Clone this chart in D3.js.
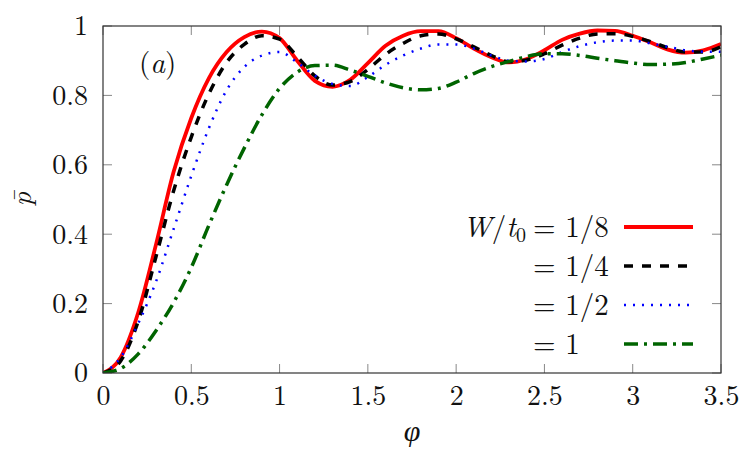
<!DOCTYPE html>
<html><head><meta charset="utf-8">
<script src="https://cdn.jsdelivr.net/npm/d3@7"></script>
<style>body{margin:0;background:#fff;}</style></head>
<body><svg id="c" width="750" height="450"></svg>
<script>
const phi = [0,0.1,0.2,0.3,0.4,0.5,0.6,0.7,0.8,0.9,1.0,1.1,1.2,1.3,1.4,1.5,1.6,1.7,1.8,1.9,2.0,2.1,2.2,2.3,2.4,2.5,2.6,2.7,2.8,2.9,3.0,3.1,3.2,3.3,3.4,3.5];
const pW8 = [0,0.045,0.175,0.37,0.58,0.735,0.85,0.925,0.968,0.984,0.965,0.9,0.842,0.825,0.845,0.893,0.943,0.972,0.985,0.985,0.965,0.935,0.91,0.895,0.905,0.93,0.96,0.978,0.987,0.986,0.972,0.953,0.932,0.923,0.93,0.948];
const pW4 = [0,0.035,0.15,0.335,0.525,0.68,0.805,0.895,0.947,0.972,0.962,0.912,0.856,0.83,0.84,0.875,0.918,0.95,0.972,0.977,0.963,0.94,0.915,0.897,0.902,0.92,0.945,0.965,0.977,0.978,0.97,0.955,0.937,0.925,0.925,0.94];
const pW2 = [0,0.045,0.143,0.263,0.415,0.568,0.706,0.815,0.882,0.915,0.925,0.895,0.857,0.833,0.827,0.853,0.888,0.915,0.935,0.947,0.947,0.935,0.915,0.9,0.898,0.905,0.925,0.942,0.953,0.958,0.958,0.95,0.94,0.93,0.926,0.926];
const pW1 = [0,0.013,0.055,0.122,0.203,0.304,0.426,0.542,0.648,0.744,0.82,0.867,0.886,0.887,0.873,0.855,0.836,0.822,0.816,0.82,0.838,0.863,0.883,0.898,0.912,0.92,0.92,0.915,0.907,0.9,0.893,0.889,0.89,0.895,0.905,0.916];
const xTicks = [0,0.5,1,1.5,2,2.5,3,3.5];
const yTicks = [0,0.2,0.4,0.6,0.8,1];
const legendLabels = ["= 1/8","= 1/4","= 1/2","= 1"];

const series = [
  {v:pW8, color:"#ff0000", dash:null, w:3.8},
  {v:pW4, color:"#000000", dash:"9,9", w:3.5},
  {v:pW2, color:"#0000ff", dash:"2,7", w:2.5},
  {v:pW1, color:"#006400", dash:"14,6,3,6", w:3.5}
];
const FONT = '"Latin Modern Roman","Liberation Serif",serif';

const svg = d3.select("#c");
const L=103, R=721, T=26, B=373;
const x = d3.scaleLinear().domain([0,3.5]).range([L,R]);
const y = d3.scaleLinear().domain([0,1]).range([B,T]);

const tk = svg.append("g").attr("stroke","#888").attr("stroke-width",1);
xTicks.forEach(t=>{
  tk.append("line").attr("x1",x(t)).attr("x2",x(t)).attr("y1",B).attr("y2",B-9);
  tk.append("line").attr("x1",x(t)).attr("x2",x(t)).attr("y1",T).attr("y2",T+9);
});
yTicks.forEach(t=>{
  tk.append("line").attr("y1",y(t)).attr("y2",y(t)).attr("x1",L).attr("x2",L+9);
  tk.append("line").attr("y1",y(t)).attr("y2",y(t)).attr("x1",R).attr("x2",R-9);
});
const xAxis = d3.axisBottom(x).tickValues(xTicks).tickFormat(d3.format("")).tickSize(0).tickPadding(12);
const gx = svg.append("g").attr("transform",`translate(0,${B})`).call(xAxis);
gx.select(".domain").remove();
gx.selectAll("text").style("font-family",FONT).style("font-size","28px").attr("fill","#111");
const yAxis = d3.axisLeft(y).tickValues(yTicks).tickFormat(d3.format("")).tickSize(0).tickPadding(15);
const gy = svg.append("g").attr("transform",`translate(${L},0)`).call(yAxis);
gy.select(".domain").remove();
gy.selectAll("text").style("font-family",FONT).style("font-size","28px").attr("fill","#111");

svg.append("defs").append("clipPath").attr("id","clip").append("rect").attr("x",L).attr("y",T).attr("width",R-L).attr("height",B-T);

const line = d3.line().x((d,i)=>x(phi[i])).y(d=>y(d)).curve(d3.curveMonotoneX);
const gl = svg.append("g").attr("clip-path","url(#clip)");
series.forEach(s=>{
  gl.append("path").attr("d",line(s.v)).attr("fill","none").attr("stroke",s.color)
    .attr("stroke-width",s.w).attr("stroke-dasharray",s.dash);
});

svg.append("rect").attr("x",L).attr("y",T).attr("width",R-L).attr("height",B-T)
  .attr("fill","none").attr("stroke","#333").attr("stroke-width",1.2);

const rows=[227,266,305,344];
svg.append("text").attr("x",526).attr("y",rows[0]+10).attr("text-anchor","end")
  .style("font-family",FONT).style("font-size","29px").attr("fill","#111")
  .html('<tspan font-style="italic">W</tspan>/<tspan font-style="italic">t</tspan><tspan font-size="20" dy="5">0</tspan>');
series.forEach((s,i)=>{
  svg.append("text").attr("x",533).attr("y",rows[i]+10).style("font-family",FONT).style("font-size","29px").attr("fill","#111").text(legendLabels[i]);
  svg.append("line").attr("x1",624).attr("x2",693).attr("y1",rows[i]).attr("y2",rows[i])
    .attr("stroke",s.color).attr("stroke-width",s.w).attr("stroke-dasharray",s.dash);
});

svg.append("text").attr("x",139).attr("y",73).style("font-family",FONT).style("font-size","29px").attr("fill","#111")
  .html('(<tspan font-style="italic">a</tspan>)');
svg.append("text").attr("x",412).attr("y",441).attr("text-anchor","middle").style("font-family",FONT).style("font-size","30px").style("font-style","italic").attr("fill","#111").text("φ");
svg.append("text").attr("transform","translate(31,199) rotate(-90)").attr("text-anchor","middle").style("font-family",FONT).style("font-size","28px").style("font-style","italic").attr("fill","#111").text("p̄");
</script></body></html>
